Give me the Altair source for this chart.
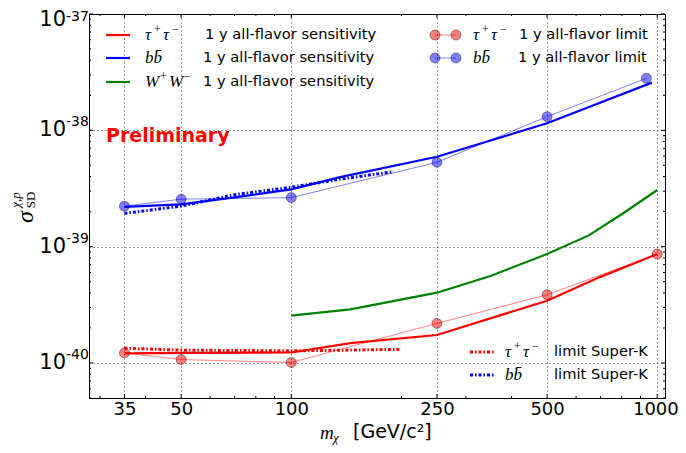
import altair as alt
import pandas as pd

# ---------------- data ----------------
tau_sens_m = [35, 50, 100, 145, 250, 500, 700, 1000]
tau_sens_s = [1.21e-40, 1.22e-40, 1.23e-40, 1.48e-40, 1.74e-40, 3.43e-40, 5.5e-40, 8.63e-40]

bb_sens_m = [35, 50, 70, 100, 135, 250, 500, 967]
bb_sens_s = [2.20e-39, 2.31e-39, 2.65e-39, 3.11e-39, 3.94e-39, 5.93e-39, 1.15e-38, 2.57e-38]

ww_sens_m = [100, 145, 250, 350, 500, 650, 800, 1000]
ww_sens_s = [2.55e-40, 2.89e-40, 4.02e-40, 5.6e-40, 8.63e-40, 1.25e-39, 1.9e-39, 3.07e-39]

tau_lim_m = [35, 50, 100, 250, 500, 1000]
tau_lim_s = [1.22e-40, 1.07e-40, 1.01e-40, 2.19e-40, 3.86e-40, 8.63e-40]

bb_lim_m = [35, 50, 100, 250, 500, 934]
bb_lim_s = [2.23e-39, 2.56e-39, 2.64e-39, 5.31e-39, 1.31e-38, 2.80e-38]

tau_sk_m = [35, 50, 100, 200]
tau_sk_s = [1.34e-40, 1.29e-40, 1.27e-40, 1.31e-40]

bb_sk_m = [35, 50, 70, 100, 135, 190]
bb_sk_s = [1.93e-39, 2.23e-39, 2.80e-39, 3.24e-39, 3.79e-39, 4.41e-39]

x_ticks_major = [35, 50, 100, 250, 500, 1000]
x_ticks_minor = [30, 40, 60, 70, 80, 90, 200, 300, 400, 600, 700, 800, 900]
y_ticks_major = [1e-40, 1e-39, 1e-38, 1e-37]
y_exp_labels = ["-40", "-39", "-38", "-37"]
y_ticks_minor = [5e-41, 6e-41, 7e-41, 8e-41, 9e-41,
                 2e-40, 3e-40, 4e-40, 5e-40, 6e-40, 7e-40, 8e-40, 9e-40,
                 2e-39, 3e-39, 4e-39, 5e-39, 6e-39, 7e-39, 8e-39, 9e-39,
                 2e-38, 3e-38, 4e-38, 5e-38, 6e-38, 7e-38, 8e-38, 9e-38]

# ---------------- layout ----------------
W, H = 576, 384
X_DOMAIN = [28, 1050]
Y_DOMAIN = [5e-41, 1e-37]
RED, BLUE, GREEN = "#ff0000", "#0000ff", "#008000"
SANS = "DejaVu Sans"
SERIF = "Liberation Serif"

xscale = alt.Scale(type="log", domain=X_DOMAIN, nice=False)
yscale = alt.Scale(type="log", domain=Y_DOMAIN, nice=False)

grid_kw = dict(grid=True, gridColor="#000000", gridDash=[1, 3], gridOpacity=0.75,
               gridWidth=1, ticks=False, domain=False, title=None,
               labelOverlap=False, labelColor="#000000", labelFont=SANS)
xaxis = alt.Axis(values=x_ticks_major, format="d", labelFontSize=18,
                 labelPadding=2, labelFlush=10, labelFlushOffset=21, **grid_kw)
yaxis = alt.Axis(values=y_ticks_major, labels=False, **grid_kw)


def X(f):
    return alt.X(f"{f}:Q", scale=xscale, axis=xaxis)


def Y(f):
    return alt.Y(f"{f}:Q", scale=yscale, axis=yaxis)


def df(m, s):
    return pd.DataFrame({"m": m, "s": s})


one = pd.DataFrame({"a": [0]})

layers = []

# sensitivity curves
for m, s, c in [(tau_sens_m, tau_sens_s, RED), (bb_sens_m, bb_sens_s, BLUE),
                (ww_sens_m, ww_sens_s, GREEN)]:
    layers.append(alt.Chart(df(m, s)).mark_line(color=c, strokeWidth=2.2, clip=True)
                  .encode(x=X("m"), y=Y("s")))

# Super-K limits (dash-dot)
SK_DASH = [3, 2, 1.5, 2]
for m, s, c in [(tau_sk_m, tau_sk_s, RED), (bb_sk_m, bb_sk_s, BLUE)]:
    layers.append(alt.Chart(df(m, s)).mark_line(color=c, strokeWidth=3,
                                                strokeDash=SK_DASH)
                  .encode(x=X("m"), y=Y("s")))

# 1 y limits (thin line + markers)
for m, s, c in [(tau_lim_m, tau_lim_s, RED), (bb_lim_m, bb_lim_s, BLUE)]:
    d = df(m, s)
    layers.append(alt.Chart(d).mark_line(color=c, strokeWidth=1, opacity=0.5)
                  .encode(x=X("m"), y=Y("s")))
    layers.append(alt.Chart(d).mark_point(shape="circle", filled=True, size=100,
                                          fill=c, fillOpacity=0.5, stroke="#000000",
                                          strokeOpacity=0.4, strokeWidth=1)
                  .encode(x=X("m"), y=Y("s")))


# inward ticks on all four sides
def xticks(vals, ln):
    d = pd.DataFrame({"v": vals})
    return [alt.Chart(d).mark_rule(color="#000000", strokeWidth=1)
            .encode(x=X("v"), y=alt.value(H), y2=alt.value(H - ln)),
            alt.Chart(d).mark_rule(color="#000000", strokeWidth=1)
            .encode(x=X("v"), y=alt.value(0), y2=alt.value(ln))]


def yticks(vals, ln):
    d = pd.DataFrame({"v": vals})
    return [alt.Chart(d).mark_rule(color="#000000", strokeWidth=1)
            .encode(y=Y("v"), x=alt.value(0), x2=alt.value(ln)),
            alt.Chart(d).mark_rule(color="#000000", strokeWidth=1)
            .encode(y=Y("v"), x=alt.value(W), x2=alt.value(W - ln))]


layers += xticks(x_ticks_major, 4) + xticks(x_ticks_minor, 2)
layers += yticks(y_ticks_major, 4) + yticks(y_ticks_minor, 2)

# y tick labels: "10" + superscript exponent
ylab = pd.DataFrame({"v": y_ticks_major, "e": y_exp_labels})
ylab_low = ylab[ylab["v"] < 5e-38]
ylab_top = ylab[ylab["v"] > 5e-38]
for d, dy_base, dy_exp in [(ylab_low, 0, -8), (ylab_top, 6, 3)]:
    layers.append(alt.Chart(d).mark_text(align="right", baseline="middle", dy=dy_base,
                                         font=SANS, fontSize=21, color="#000000")
                  .encode(x=alt.value(-23), y=Y("v"), text=alt.value("10")))
    layers.append(alt.Chart(d).mark_text(align="left", baseline="middle", dy=dy_exp,
                                         font=SANS, fontSize=14, color="#000000")
                  .encode(x=alt.value(-23), y=Y("v"), text="e:N"))


def txt(t, x, y, size=14.7, font=SANS, style="normal", weight="normal",
        color="#000000", align="left", baseline="middle", angle=0):
    return (alt.Chart(one)
            .mark_text(font=font, fontSize=size, fontStyle=style, fontWeight=weight,
                       color=color, align=align, baseline=baseline, angle=angle)
            .encode(x=alt.value(x), y=alt.value(y), text=alt.value(t)))


def hline(x1, x2, y, c, w=2.2, dash=None, opacity=1.0):
    kw = dict(color=c, strokeWidth=w, opacity=opacity)
    if dash:
        kw["strokeDash"] = dash
    return (alt.Chart(one).mark_rule(**kw)
            .encode(x=alt.value(x1), x2=alt.value(x2), y=alt.value(y)))


def marker(x, y, c):
    return (alt.Chart(one).mark_point(shape="circle", filled=True, size=100, fill=c,
                                      fillOpacity=0.5, stroke="#000000",
                                      strokeOpacity=0.4, strokeWidth=1)
            .encode(x=alt.value(x), y=alt.value(y)))


def pair_label(x, y, base, sup1, sup2, step_sup, step_base):
    """math-like label 'A^+ A^-' drawn from separate text pieces"""
    out = []
    px = x
    for piece in (base, sup1, base, sup2):
        if piece in (sup1, sup2) and piece != base:
            out.append(txt(piece, px, y - 6, size=12, font=SERIF))
            px += step_sup
        else:
            out.append(txt(piece, px, y, size=17, font=SERIF, style="italic"))
            px += step_base
    return out


def tau_label(x, y):
    return pair_label(x, y, "τ", "+", "−", 9, 9)


def ww_label(x, y):
    return pair_label(x, y, "W", "+", "−", 9, 15)


def bb_label(x, y):
    return [txt("bb\u0304", x, y, size=17, font=SERIF, style="italic")]


# legend: sensitivities
for (lab, c, ty, tx) in [(tau_label, RED, 21, 116), (bb_label, BLUE, 44, 114),
                         (ww_label, GREEN, 68, 114)]:
    layers.append(hline(17, 41, ty, c))
    layers += lab(56, ty)
    layers.append(txt("1 y all-flavor sensitivity", tx, ty))

# legend: limits
for (lab, c, ty, tx) in [(tau_label, RED, 21, 430), (bb_label, BLUE, 44, 429)]:
    layers.append(hline(346, 367, ty, c, w=1, opacity=0.5))
    layers.append(marker(346, ty, c))
    layers.append(marker(367, ty, c))
    layers += lab(384, ty)
    layers.append(txt("1 y all-flavor limit", tx, ty))

# legend: Super-K
for (lab, c, ty) in [(tau_label, RED, 338), (bb_label, BLUE, 361)]:
    layers.append(hline(381, 406, ty, c, w=3, dash=SK_DASH))
    layers += lab(416, ty)
    layers.append(txt("limit Super-K", 465, ty))

# Preliminary
layers.append(txt("Preliminary", 17, 128, size=19, weight="bold", color=RED,
                  baseline="alphabetic"))

# x-axis title
layers.append(txt("m", 231, 425, size=19, font=SERIF, style="italic", baseline="alphabetic"))
layers.append(txt("χ", 244, 428, size=13, font=SERIF, style="italic", baseline="alphabetic"))
layers.append(txt("[GeV/c²]", 264, 424, size=19, baseline="alphabetic"))

# y-axis title
layers.append(txt("σ", -56, 203, size=24, font=SERIF, style="italic",
                  baseline="alphabetic", align="center", angle=270))
layers.append(txt("SD", -54, 186, size=13, font=SERIF, baseline="alphabetic",
                  align="center", angle=270))
layers.append(txt("χ,p", -69, 186, size=13, font=SERIF, style="italic",
                  baseline="alphabetic", align="center", angle=270))

chart = (alt.layer(*layers)
         .properties(width=W, height=H,
                     autosize=alt.AutoSizeParams(type="none"),
                     padding={"left": 81, "top": 6, "right": 13, "bottom": 47})
         .configure_view(stroke="#000000", strokeWidth=1))

chart.save("out.html", embed_options={"renderer": "svg", "actions": False})
